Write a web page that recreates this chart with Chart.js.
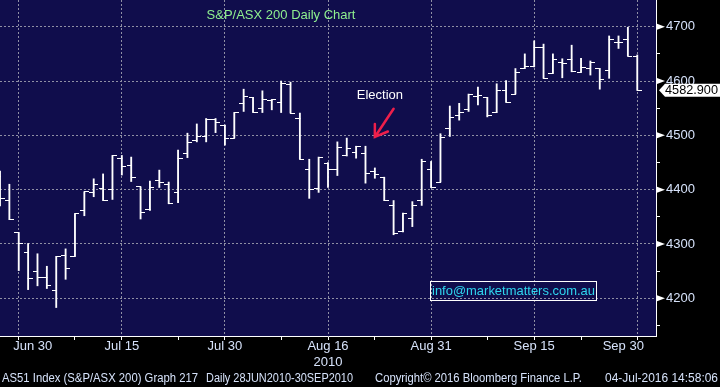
<!DOCTYPE html>
<html>
<head>
<meta charset="utf-8">
<script src="https://cdn.jsdelivr.net/npm/chart.js@4.4.1/dist/chart.umd.min.js"></script>
<style>
  html, body { margin: 0; padding: 0; background: #000; }
  #chart { display: block; }
</style>
</head>
<body>
<canvas id="chart" width="720" height="387"></canvas>
<script>
// trading days, 28 Jun - 30 Sep 2010
const days = [
  '28 Jun','29 Jun','30 Jun','1 Jul','2 Jul','5 Jul','6 Jul','7 Jul','8 Jul','9 Jul',
  '12 Jul','13 Jul','14 Jul','15 Jul','16 Jul','19 Jul','20 Jul','21 Jul','22 Jul','23 Jul',
  '26 Jul','27 Jul','28 Jul','29 Jul','30 Jul','2 Aug','3 Aug','4 Aug','5 Aug','6 Aug',
  '9 Aug','10 Aug','11 Aug','12 Aug','13 Aug','16 Aug','17 Aug','18 Aug','19 Aug','20 Aug',
  '23 Aug','24 Aug','25 Aug','26 Aug','27 Aug','30 Aug','31 Aug','1 Sep','2 Sep','3 Sep',
  '6 Sep','7 Sep','8 Sep','9 Sep','10 Sep','13 Sep','14 Sep','15 Sep','16 Sep','17 Sep',
  '20 Sep','21 Sep','22 Sep','23 Sep','24 Sep','27 Sep','28 Sep','29 Sep','30 Sep'
];
const opens = [
  4425, 4380, 4321, 4285, 4250, 4239, 4214, 4279, 4277, 4361,
  4395, 4402, 4401, 4458, 4445, 4405, 4364, 4417, 4410, 4395,
  4467, 4491, 4498, 4530, 4519, 4495, 4559, 4570, 4550, 4565,
  4561, 4593, 4531, 4438, 4403, 4449, 4438, 4462, 4469, 4467,
  4434, 4423, 4370, 4323, 4347, 4380, 4438, 4414, 4513, 4537,
  4548, 4572, 4570, 4542, 4583, 4576, 4623, 4627, 4662, 4614,
  4634, 4640, 4616, 4623, 4623, 4620, 4671, 4677, 4646
];
const highs = [
  4434, 4410, 4321, 4301, 4282, 4259, 4277, 4291, 4356, 4396,
  4420, 4429, 4463, 4463, 4460, 4405, 4416, 4436, 4414, 4473,
  4504, 4521, 4531, 4531, 4519, 4542, 4585, 4570, 4582, 4566,
  4600, 4598, 4541, 4456, 4460, 4450, 4488, 4495, 4480, 4480,
  4440, 4423, 4380, 4357, 4378, 4456, 4452, 4503, 4554, 4559,
  4576, 4589, 4570, 4595, 4601, 4623, 4650, 4674, 4668, 4650,
  4641, 4666, 4642, 4637, 4623, 4683, 4683, 4699, 4648
];
const lows = [
  4370, 4345, 4251, 4216, 4223, 4218, 4183, 4235, 4277, 4352,
  4387, 4380, 4382, 4427, 4415, 4346, 4362, 4404, 4374, 4376,
  4459, 4488, 4488, 4505, 4482, 4495, 4544, 4542, 4542, 4547,
  4542, 4541, 4456, 4384, 4395, 4404, 4426, 4462, 4458, 4412,
  4421, 4380, 4317, 4322, 4332, 4371, 4404, 4414, 4498, 4528,
  4544, 4556, 4534, 4542, 4561, 4576, 4623, 4626, 4605, 4614,
  4606, 4617, 4616, 4611, 4585, 4605, 4660, 4646, 4583
];
const closes = [
  4384, 4345, 4301, 4237, 4239, 4223, 4277, 4254, 4356, 4396,
  4410, 4380, 4463, 4443, 4423, 4358, 4404, 4414, 4375, 4458,
  4487, 4498, 4530, 4524, 4495, 4542, 4572, 4542, 4566, 4566,
  4596, 4541, 4456, 4401, 4460, 4438, 4478, 4475, 4480, 4430,
  4428, 4380, 4320, 4357, 4370, 4452, 4404, 4496, 4533, 4542,
  4576, 4574, 4537, 4583, 4561, 4616, 4627, 4662, 4605, 4640,
  4633, 4617, 4625, 4635, 4603, 4677, 4671, 4646, 4582.9
];
const lastPrice = 4582.9;

// axis labels
const labelledDays = ['30 Jun','15 Jul','30 Jul','16 Aug','31 Aug','15 Sep','30 Sep'];
const tickLabels = ['Jun 30','Jul 15','Jul 30','Aug 16','Aug 31','Sep 15','Sep 30'];
const minorDays = ['8 Jul','23 Jul','9 Aug','23 Aug','8 Sep','22 Sep'];
const yearLabel = '2010';

// two empty slots keep the space right of the last bar
const slots = days.concat(['', '']);

const BG = '#100d4c';
const GRID = '#8f8fa4';
const AXIS_TEXT = '#d6e2fa';

function tickImage(left) {
  const c = document.createElement('canvas');
  c.width = 9; c.height = 1;
  const g = c.getContext('2d');
  g.fillStyle = '#ffffff';
  g.fillRect(left ? 0 : 4, 0, 5, 1);
  return c;
}

const decor = {
  id: 'decor',
  beforeDraw(chart) {
    const { ctx, chartArea: a } = chart;
    ctx.save();
    ctx.fillStyle = '#000';
    ctx.fillRect(0, 0, chart.width, chart.height);
    ctx.fillStyle = BG;
    ctx.fillRect(a.left, a.top, a.right - a.left, a.bottom - a.top);
    ctx.restore();
  },
  afterDraw(chart) {
    const { ctx, chartArea: a } = chart;
    const xs = chart.scales.x, ys = chart.scales.y;
    ctx.save();
    ctx.textBaseline = 'middle';

    // title
    ctx.font = '13px "Liberation Sans", Arial, sans-serif';
    ctx.fillStyle = '#8ff08f';
    ctx.textAlign = 'center';
    ctx.fillText('S&P/ASX 200 Daily Chart', 281, 15);

    // election note + arrow
    const ex = xs.getPixelForValue(days.indexOf('23 Aug'));
    const tipY = ys.getPixelForValue(4497);
    ctx.fillStyle = '#ffffff';
    ctx.fillText('Election', ex + 5, ys.getPixelForValue(4573));
    const tailX = xs.getPixelForValue(days.indexOf('25 Aug'));
    const tailY = ys.getPixelForValue(4549);
    ctx.strokeStyle = '#ee1f4b';
    ctx.lineWidth = 2.5;
    ctx.lineCap = 'round';
    ctx.beginPath();
    ctx.moveTo(tailX, tailY);
    ctx.lineTo(ex, tipY);
    ctx.moveTo(ex, tipY - 13);
    ctx.lineTo(ex, tipY);
    ctx.lineTo(ex + 13, tipY - 5.5);
    ctx.stroke();

    // contact box
    ctx.strokeStyle = '#ffffff';
    ctx.lineWidth = 1;
    ctx.strokeRect(430.5, 281.5, 166, 19);
    ctx.fillStyle = '#2fd6ee';
    ctx.textAlign = 'left';
    ctx.fillText('info@marketmatters.com.au', 432, 291.5, 163);

    // x axis labels
    ctx.fillStyle = AXIS_TEXT;
    ctx.textAlign = 'center';
    labelledDays.forEach((d, i) => {
      let x = xs.getPixelForValue(days.indexOf(d));
      if (i === 0) x += 14;
      if (i === labelledDays.length - 1) x -= 14;
      ctx.fillText(tickLabels[i], x, 346);
    });
    ctx.fillText(yearLabel, xs.getPixelForValue(days.indexOf('16 Aug')), 362);

    // footer
    ctx.font = '12px "Liberation Sans", Arial, sans-serif';
    ctx.textAlign = 'left';
    ctx.fillText('AS51 Index (S&P/ASX 200) Graph 217', 2, 379, 196);
    ctx.fillText('Daily 28JUN2010-30SEP2010', 206, 379, 147);
    ctx.fillText('Copyright\u00A9 2016 Bloomberg Finance L.P.', 375, 379, 207);
    ctx.fillText('04-Jul-2016 14:58:06', 605, 379, 113);

    // triangles on the price axis
    ctx.fillStyle = '#ffffff';
    ys.ticks.forEach(t => {
      if (t.value % 100 !== 0) return;
      const y = ys.getPixelForValue(t.value);
      ctx.beginPath();
      ctx.moveTo(a.right + 1, y - 3);
      ctx.lineTo(a.right + 9, y);
      ctx.lineTo(a.right + 1, y + 3);
      ctx.closePath();
      ctx.fill();
    });

    // last price tag
    const py = ys.getPixelForValue(lastPrice);
    ctx.fillStyle = '#ffffff';
    ctx.beginPath();
    ctx.moveTo(a.right + 3, py);
    ctx.lineTo(a.right + 9, py - 6.5);
    ctx.lineTo(720, py - 6.5);
    ctx.lineTo(720, py + 6.5);
    ctx.lineTo(a.right + 9, py + 6.5);
    ctx.closePath();
    ctx.fill();
    ctx.fillStyle = '#000';
    ctx.font = '13px "Liberation Sans", Arial, sans-serif';
    ctx.fillText(lastPrice.toFixed(3), a.right + 9, py + 0.5, 53);
    ctx.restore();
  }
};

new Chart(document.getElementById('chart'), {
  type: 'bar',
  data: {
    labels: slots,
    datasets: [
      {
        label: 'range',
        data: lows.map((l, i) => [l, highs[i]]),
        backgroundColor: '#ffffff',
        borderWidth: 0,
        barThickness: 1.2
      },
      {
        type: 'line',
        label: 'open',
        data: opens,
        showLine: false,
        pointStyle: tickImage(true),
        pointRadius: 3
      },
      {
        type: 'line',
        label: 'close',
        data: closes,
        showLine: false,
        pointStyle: tickImage(false),
        pointRadius: 3
      }
    ]
  },
  options: {
    responsive: false,
    animation: false,
    events: [],
    layout: { padding: 0, autoPadding: false },
    plugins: { legend: { display: false }, tooltip: { enabled: false }, title: { display: false } },
    scales: {
      x: {
        type: 'category',
        offset: false,
        grid: {
          offset: false,
          color: c => labelledDays.includes(slots[c.index]) ? GRID : 'rgba(0,0,0,0)',
          tickColor: c => (labelledDays.includes(slots[c.index]) || minorDays.includes(slots[c.index])) ? '#ffffff' : 'rgba(0,0,0,0)',
          tickLength: 4
        },
        border: { display: true, color: '#ffffff', width: 1, dash: [2, 2] },
        ticks: { autoSkip: false, maxRotation: 0, callback: () => '' },
        afterFit: s => {
          s.height = 51;
          s.paddingLeft = 0; s.paddingRight = 0;
          s.paddingTop = 0; s.paddingBottom = 0;
        }
      },
      y: {
        type: 'linear',
        position: 'right',
        min: 4130.6,
        max: 4749.2,
        grid: {
          color: c => (c.tick && c.tick.value % 100 === 0) ? GRID : 'rgba(0,0,0,0)',
          tickColor: c => (c.tick && c.tick.value % 100 !== 0) ? '#ffffff' : 'rgba(0,0,0,0)',
          tickLength: 4
        },
        border: { display: true, color: '#ffffff', width: 1, dash: [2, 2] },
        ticks: {
          stepSize: 50,
          includeBounds: false,
          padding: 6,
          color: AXIS_TEXT,
          font: { family: '"Liberation Sans", Arial, sans-serif', size: 13 },
          callback: v => (v % 100 === 0 ? String(v) : '')
        },
        afterFit: s => {
          s.width = 64;
          s.paddingTop = 0; s.paddingBottom = 0;
          s.paddingLeft = 0; s.paddingRight = 0;
        }
      }
    }
  },
  plugins: [decor]
});
</script>
</body>
</html>
